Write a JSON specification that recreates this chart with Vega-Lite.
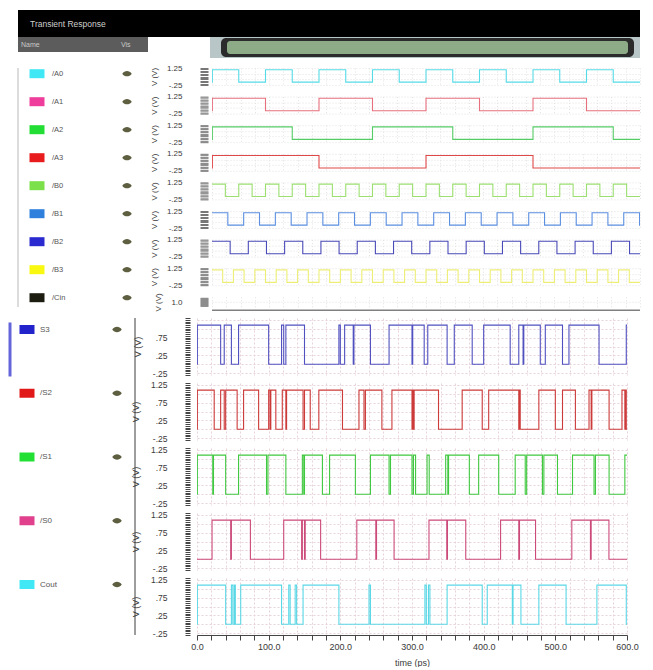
{
"$schema": "https://vega.github.io/schema/vega-lite/v6.json",
"background": "white",
"padding": {"left": 0, "top": 10, "right": 0, "bottom": 0},
"spacing": 0,
"datasets": {
"legTop": [{"name":"/A0"},{"name":"/A1"},{"name":"/A2"},{"name":"/A3"},{"name":"/B0"},{"name":"/B1"},{"name":"/B2"},{"name":"/B3"},{"name":"/Cin"}],
"legBot": [{"name":"S3"},{"name":"/S2"},{"name":"/S1"},{"name":"/S0"},{"name":"Cout"}],
"A0": [{"t":0,"v":0},{"t":0.5,"v":1.1},{"t":37.5,"v":0},{"t":75,"v":1.1},{"t":112.5,"v":0},{"t":150,"v":1.1},{"t":187.5,"v":0},{"t":225,"v":1.1},{"t":262.5,"v":0},{"t":300,"v":1.1},{"t":337.5,"v":0},{"t":375,"v":1.1},{"t":412.5,"v":0},{"t":450,"v":1.1},{"t":487.5,"v":0},{"t":525,"v":1.1},{"t":562.5,"v":0},{"t":600,"v":0}],
"A1": [{"t":0,"v":0},{"t":0.5,"v":1.1},{"t":75,"v":0},{"t":150,"v":1.1},{"t":225,"v":0},{"t":300,"v":1.1},{"t":375,"v":0},{"t":450,"v":1.1},{"t":525,"v":0},{"t":600,"v":0}],
"A2": [{"t":0,"v":0},{"t":0.5,"v":1.1},{"t":112.5,"v":0},{"t":225,"v":1.1},{"t":337.5,"v":0},{"t":450,"v":1.1},{"t":562.5,"v":0},{"t":600,"v":0}],
"A3": [{"t":0,"v":0},{"t":0.5,"v":1.1},{"t":150,"v":0},{"t":300,"v":1.1},{"t":450,"v":0},{"t":600,"v":0}],
"B0": [{"t":0,"v":1.1},{"t":18.75,"v":0},{"t":37.5,"v":1.1},{"t":56.25,"v":0},{"t":75,"v":1.1},{"t":93.75,"v":0},{"t":112.5,"v":1.1},{"t":131.25,"v":0},{"t":150,"v":1.1},{"t":168.75,"v":0},{"t":187.5,"v":1.1},{"t":206.25,"v":0},{"t":225,"v":1.1},{"t":243.75,"v":0},{"t":262.5,"v":1.1},{"t":281.25,"v":0},{"t":300,"v":1.1},{"t":318.75,"v":0},{"t":337.5,"v":1.1},{"t":356.25,"v":0},{"t":375,"v":1.1},{"t":393.75,"v":0},{"t":412.5,"v":1.1},{"t":431.25,"v":0},{"t":450,"v":1.1},{"t":468.75,"v":0},{"t":487.5,"v":1.1},{"t":506.25,"v":0},{"t":525,"v":1.1},{"t":543.75,"v":0},{"t":562.5,"v":1.1},{"t":581.25,"v":0},{"t":600,"v":0}],
"B1": [{"t":0,"v":1.1},{"t":22.2,"v":0},{"t":44.4,"v":1.1},{"t":66.6,"v":0},{"t":88.8,"v":1.1},{"t":111,"v":0},{"t":133.2,"v":1.1},{"t":155.4,"v":0},{"t":177.6,"v":1.1},{"t":199.8,"v":0},{"t":222,"v":1.1},{"t":244.2,"v":0},{"t":266.4,"v":1.1},{"t":288.6,"v":0},{"t":310.8,"v":1.1},{"t":333,"v":0},{"t":355.2,"v":1.1},{"t":377.4,"v":0},{"t":399.6,"v":1.1},{"t":421.8,"v":0},{"t":444,"v":1.1},{"t":466.2,"v":0},{"t":488.4,"v":1.1},{"t":510.6,"v":0},{"t":532.8,"v":1.1},{"t":555,"v":0},{"t":577.2,"v":1.1},{"t":599.4,"v":0},{"t":600,"v":0}],
"B2": [{"t":0,"v":1.1},{"t":25.45,"v":0},{"t":50.9,"v":1.1},{"t":76.35,"v":0},{"t":101.8,"v":1.1},{"t":127.25,"v":0},{"t":152.7,"v":1.1},{"t":178.15,"v":0},{"t":203.6,"v":1.1},{"t":229.05,"v":0},{"t":254.5,"v":1.1},{"t":279.95,"v":0},{"t":305.4,"v":1.1},{"t":330.85,"v":0},{"t":356.3,"v":1.1},{"t":381.75,"v":0},{"t":407.2,"v":1.1},{"t":432.65,"v":0},{"t":458.1,"v":1.1},{"t":483.55,"v":0},{"t":509,"v":1.1},{"t":534.45,"v":0},{"t":559.9,"v":1.1},{"t":585.35,"v":0},{"t":600,"v":0}],
"B3": [{"t":0,"v":1.1},{"t":15,"v":0},{"t":30,"v":1.1},{"t":45,"v":0},{"t":60,"v":1.1},{"t":75,"v":0},{"t":90,"v":1.1},{"t":105,"v":0},{"t":120,"v":1.1},{"t":135,"v":0},{"t":150,"v":1.1},{"t":165,"v":0},{"t":180,"v":1.1},{"t":195,"v":0},{"t":210,"v":1.1},{"t":225,"v":0},{"t":240,"v":1.1},{"t":255,"v":0},{"t":270,"v":1.1},{"t":285,"v":0},{"t":300,"v":1.1},{"t":315,"v":0},{"t":330,"v":1.1},{"t":345,"v":0},{"t":360,"v":1.1},{"t":375,"v":0},{"t":390,"v":1.1},{"t":405,"v":0},{"t":420,"v":1.1},{"t":435,"v":0},{"t":450,"v":1.1},{"t":465,"v":0},{"t":480,"v":1.1},{"t":495,"v":0},{"t":510,"v":1.1},{"t":525,"v":0},{"t":540,"v":1.1},{"t":555,"v":0},{"t":570,"v":1.1},{"t":585,"v":0},{"t":600,"v":0}],
"Cin": [{"t":0,"v":0},{"t":600,"v":0}],
"S3": [{"t":0,"v":0},{"t":0.5,"v":1.1},{"t":33,"v":0},{"t":38,"v":1.1},{"t":48,"v":0},{"t":58,"v":1.1},{"t":100,"v":0},{"t":118,"v":1.1},{"t":121,"v":0},{"t":124,"v":1.1},{"t":150,"v":0},{"t":198,"v":1.1},{"t":200,"v":0},{"t":206,"v":1.1},{"t":218,"v":0},{"t":219,"v":1.1},{"t":242,"v":0},{"t":268,"v":1.1},{"t":300,"v":0},{"t":301,"v":1.1},{"t":317,"v":0},{"t":322,"v":1.1},{"t":349,"v":0},{"t":359,"v":1.1},{"t":384,"v":0},{"t":400,"v":1.1},{"t":437,"v":0},{"t":449,"v":1.1},{"t":455,"v":0},{"t":456,"v":1.1},{"t":479,"v":0},{"t":486,"v":1.1},{"t":510,"v":0},{"t":519,"v":1.1},{"t":561,"v":0},{"t":599,"v":1.1},{"t":600,"v":1.1}],
"S2": [{"t":0,"v":0},{"t":0.5,"v":1.1},{"t":24,"v":0},{"t":33,"v":1.1},{"t":38,"v":0},{"t":40,"v":1.1},{"t":56,"v":0},{"t":65,"v":1.1},{"t":86,"v":0},{"t":100,"v":1.1},{"t":102,"v":0},{"t":103,"v":1.1},{"t":110,"v":0},{"t":119,"v":1.1},{"t":124,"v":0},{"t":125,"v":1.1},{"t":148,"v":0},{"t":150,"v":1.1},{"t":158,"v":0},{"t":170,"v":1.1},{"t":203,"v":0},{"t":226,"v":1.1},{"t":233,"v":0},{"t":235,"v":1.1},{"t":258,"v":0},{"t":272,"v":1.1},{"t":300,"v":0},{"t":301,"v":1.1},{"t":302,"v":0},{"t":303,"v":1.1},{"t":337,"v":0},{"t":370,"v":1.1},{"t":398,"v":0},{"t":407,"v":1.1},{"t":449,"v":0},{"t":450,"v":1.1},{"t":451,"v":0},{"t":477,"v":1.1},{"t":500,"v":0},{"t":510,"v":1.1},{"t":528,"v":0},{"t":547,"v":1.1},{"t":550,"v":0},{"t":551,"v":1.1},{"t":575,"v":0},{"t":593,"v":1.1},{"t":597,"v":0},{"t":598,"v":1.1},{"t":599,"v":0},{"t":600,"v":0}],
"S1": [{"t":0,"v":0},{"t":0.5,"v":1.1},{"t":22,"v":0},{"t":23,"v":1.1},{"t":40,"v":0},{"t":58,"v":1.1},{"t":97,"v":0},{"t":99,"v":1.1},{"t":124,"v":0},{"t":147,"v":1.1},{"t":149,"v":0},{"t":150,"v":1.1},{"t":175,"v":0},{"t":185,"v":1.1},{"t":221,"v":0},{"t":242,"v":1.1},{"t":268,"v":0},{"t":270,"v":1.1},{"t":300,"v":0},{"t":302,"v":1.1},{"t":305,"v":0},{"t":321,"v":1.1},{"t":324,"v":0},{"t":347,"v":1.1},{"t":350,"v":0},{"t":351,"v":1.1},{"t":380,"v":0},{"t":393,"v":1.1},{"t":421,"v":0},{"t":444,"v":1.1},{"t":458,"v":0},{"t":460,"v":1.1},{"t":482,"v":0},{"t":484,"v":1.1},{"t":503,"v":0},{"t":524,"v":1.1},{"t":554,"v":0},{"t":556,"v":1.1},{"t":575,"v":0},{"t":597,"v":1.1},{"t":600,"v":1.1}],
"S0": [{"t":0,"v":0},{"t":21,"v":1.1},{"t":47,"v":0},{"t":48,"v":1.1},{"t":74.5,"v":0},{"t":121,"v":1.1},{"t":146,"v":0},{"t":147,"v":1.1},{"t":150,"v":0},{"t":151,"v":1.1},{"t":172.5,"v":0},{"t":223,"v":1.1},{"t":249.5,"v":0},{"t":250.5,"v":1.1},{"t":275,"v":0},{"t":323.7,"v":1.1},{"t":348.5,"v":0},{"t":349.5,"v":1.1},{"t":375,"v":0},{"t":423.6,"v":1.1},{"t":449,"v":0},{"t":450,"v":1.1},{"t":472.4,"v":0},{"t":523,"v":1.1},{"t":549,"v":0},{"t":550,"v":1.1},{"t":574.8,"v":0},{"t":600,"v":0}],
"Cout": [{"t":0,"v":0},{"t":0.5,"v":1.1},{"t":40,"v":0},{"t":48,"v":1.1},{"t":50,"v":0},{"t":52,"v":1.1},{"t":53.5,"v":0},{"t":61,"v":1.1},{"t":118,"v":0},{"t":128,"v":1.1},{"t":130,"v":0},{"t":137,"v":1.1},{"t":139,"v":0},{"t":148,"v":1.1},{"t":198,"v":0},{"t":240,"v":1.1},{"t":242,"v":0},{"t":318,"v":1.1},{"t":320,"v":0},{"t":323,"v":1.1},{"t":325,"v":0},{"t":349,"v":1.1},{"t":398,"v":0},{"t":405,"v":1.1},{"t":440,"v":0},{"t":441,"v":1.1},{"t":452,"v":0},{"t":477,"v":1.1},{"t":515,"v":0},{"t":558,"v":1.1},{"t":599,"v":0},{"t":600,"v":0}]
},
"vconcat": [
{"width": 640, "height": 53.1, "data": {"values": [{}]},
 "layer": [
  {"mark": {"type": "rect", "color": "#000000"}, "encoding": {"x": {"datum": 18, "type": "quantitative", "scale": {"domain": [0, 640], "nice": false, "zero": false}, "axis": null}, "x2": {"datum": 640}, "y": {"datum": 10, "type": "quantitative", "scale": {"domain": [10, 63.1], "reverse": true, "nice": false, "zero": false}, "axis": null}, "y2": {"datum": 37}}},
  {"mark": {"type": "rect", "color": "#5c5c5c"}, "encoding": {"x": {"datum": 18, "type": "quantitative"}, "x2": {"datum": 148}, "y": {"datum": 37, "type": "quantitative"}, "y2": {"datum": 52}}},
  {"mark": {"type": "rect", "color": "#b9c6c8"}, "encoding": {"x": {"datum": 210, "type": "quantitative"}, "x2": {"datum": 640}, "y": {"datum": 37, "type": "quantitative"}, "y2": {"datum": 58}}},
  {"mark": {"type": "rect", "color": "#2b2b2b", "cornerRadius": 5}, "encoding": {"x": {"datum": 221, "type": "quantitative"}, "x2": {"datum": 634}, "y": {"datum": 38, "type": "quantitative"}, "y2": {"datum": 57}}},
  {"mark": {"type": "rect", "color": "#8dab86", "cornerRadius": 3}, "encoding": {"x": {"datum": 227, "type": "quantitative"}, "x2": {"datum": 628}, "y": {"datum": 41, "type": "quantitative"}, "y2": {"datum": 54}}},
  {"mark": {"type": "text", "align": "left", "baseline": "middle", "color": "#cfcfcf", "fontSize": 8.5}, "encoding": {"x": {"datum": 30, "type": "quantitative"}, "y": {"datum": 24, "type": "quantitative"}, "text": {"value": "Transient Response"}}},
  {"mark": {"type": "text", "align": "left", "baseline": "middle", "color": "#c8c8c8", "fontSize": 7}, "encoding": {"x": {"datum": 21, "type": "quantitative"}, "y": {"datum": 44.5, "type": "quantitative"}, "text": {"value": "Name"}}},
  {"mark": {"type": "text", "align": "left", "baseline": "middle", "color": "#c8c8c8", "fontSize": 7}, "encoding": {"x": {"datum": 121, "type": "quantitative"}, "y": {"datum": 44.5, "type": "quantitative"}, "text": {"value": "Vis"}}}
 ]},
{"hconcat": [
  {"width": 212, "height": 239, "data": {"name": "legTop"},
   "layer": [
    {"mark": {"type": "rule", "color": "#dcdcdc"}, "encoding": {"x": {"datum": 18, "type": "quantitative", "scale": {"domain": [0, 212], "nice": false, "zero": false}, "axis": null}}},
    {"mark": {"type": "point", "filled": true, "opacity": 1, "shape": "M-1,-0.6L1,-0.6L1,0.6L-1,0.6Z", "size": 225}, "encoding": {"x": {"datum": 37, "type": "quantitative"}, "y": {"field": "name", "type": "nominal", "scale": {"type": "point", "padding": 0, "domain": ["/A0","/A1","/A2","/A3","/B0","/B1","/B2","/B3","/Cin"], "range": [5.7, 229.7]}, "axis": null}, "color": {"field": "name", "type": "nominal", "scale": {"domain": ["/A0","/A1","/A2","/A3","/B0","/B1","/B2","/B3","/Cin","S3","/S2","/S1","/S0","Cout"], "range": ["#40e8f5","#ee3d9b","#22dd33","#e81c1c","#7be04a","#2f80dc","#2a2ad0","#f8f810","#1c1c10","#2323cc","#e01818","#22e033","#e0408c","#40e8f5"]}, "legend": null}}},
    {"mark": {"type": "text", "align": "left", "baseline": "middle", "fontSize": 7.5, "color": "#555555"}, "encoding": {"x": {"datum": 52, "type": "quantitative"}, "y": {"field": "name", "type": "nominal"}, "text": {"field": "name"}}},
    {"mark": {"type": "point", "filled": true, "opacity": 1, "color": "#5e5e40", "shape": "M-1,0C-0.5,-0.75 0.5,-0.75 1,0C0.5,0.75 -0.5,0.75 -1,0Z", "size": 90}, "encoding": {"x": {"datum": 127, "type": "quantitative"}, "y": {"field": "name", "type": "nominal"}}}
   ]},
  {"vconcat": [
    {"data": {"name": "A0"}, "width": 428, "height": 17, "mark": {"type": "line", "interpolate": "step-after", "color": "#55dbe6", "strokeWidth": 1.1, "clip": true}, "encoding": {"x": {"field": "t", "type": "quantitative", "scale": {"domain": [0, 600], "nice": false}, "axis": {"title": null, "labels": false, "ticks": false, "domain": false, "tickCount": 30, "grid": true, "gridColor": "#e2e2e2", "gridDash": [1, 2]}}, "y": {"field": "v", "type": "quantitative", "scale": {"domain": [-0.25, 1.25], "nice": false, "zero": false}, "axis": {"title": "V (V)", "values": [-0.25,-0.125,0,0.125,0.25,0.375,0.5,0.625,0.75,0.875,1,1.125,1.25], "labelExpr": "datum.value == 1.25 ? '1.25' : datum.value == -0.25 ? '-.25' : ''", "offset": 4, "tickSize": 8, "tickColor": "#777777", "labelPadding": 18, "titlePadding": 8, "labelFontSize": 8, "titleFontSize": 8, "domain": false, "grid": true, "gridColor": "#e2e2e2", "gridDash": [1, 2], "gridOpacity": {"condition": {"test": "indexof([-0.25,0.25,0.75,1.25], datum.value) >= 0", "value": 1}, "value": 0}}}}},
    {"data": {"name": "A1"}, "width": 428, "height": 17, "mark": {"type": "line", "interpolate": "step-after", "color": "#e8707e", "strokeWidth": 1.1, "clip": true}, "encoding": {"x": {"field": "t", "type": "quantitative", "scale": {"domain": [0, 600], "nice": false}, "axis": {"title": null, "labels": false, "ticks": false, "domain": false, "tickCount": 30, "grid": true, "gridColor": "#e2e2e2", "gridDash": [1, 2]}}, "y": {"field": "v", "type": "quantitative", "scale": {"domain": [-0.25, 1.25], "nice": false, "zero": false}, "axis": {"title": "V (V)", "values": [-0.25,-0.125,0,0.125,0.25,0.375,0.5,0.625,0.75,0.875,1,1.125,1.25], "labelExpr": "datum.value == 1.25 ? '1.25' : datum.value == -0.25 ? '-.25' : ''", "offset": 4, "tickSize": 8, "tickColor": "#777777", "labelPadding": 18, "titlePadding": 8, "labelFontSize": 8, "titleFontSize": 8, "domain": false, "grid": true, "gridColor": "#e2e2e2", "gridDash": [1, 2], "gridOpacity": {"condition": {"test": "indexof([-0.25,0.25,0.75,1.25], datum.value) >= 0", "value": 1}, "value": 0}}}}},
    {"data": {"name": "A2"}, "width": 428, "height": 17, "mark": {"type": "line", "interpolate": "step-after", "color": "#55cc66", "strokeWidth": 1.1, "clip": true}, "encoding": {"x": {"field": "t", "type": "quantitative", "scale": {"domain": [0, 600], "nice": false}, "axis": {"title": null, "labels": false, "ticks": false, "domain": false, "tickCount": 30, "grid": true, "gridColor": "#e2e2e2", "gridDash": [1, 2]}}, "y": {"field": "v", "type": "quantitative", "scale": {"domain": [-0.25, 1.25], "nice": false, "zero": false}, "axis": {"title": "V (V)", "values": [-0.25,-0.125,0,0.125,0.25,0.375,0.5,0.625,0.75,0.875,1,1.125,1.25], "labelExpr": "datum.value == 1.25 ? '1.25' : datum.value == -0.25 ? '-.25' : ''", "offset": 4, "tickSize": 8, "tickColor": "#777777", "labelPadding": 18, "titlePadding": 8, "labelFontSize": 8, "titleFontSize": 8, "domain": false, "grid": true, "gridColor": "#e2e2e2", "gridDash": [1, 2], "gridOpacity": {"condition": {"test": "indexof([-0.25,0.25,0.75,1.25], datum.value) >= 0", "value": 1}, "value": 0}}}}},
    {"data": {"name": "A3"}, "width": 428, "height": 17, "mark": {"type": "line", "interpolate": "step-after", "color": "#e04848", "strokeWidth": 1.1, "clip": true}, "encoding": {"x": {"field": "t", "type": "quantitative", "scale": {"domain": [0, 600], "nice": false}, "axis": {"title": null, "labels": false, "ticks": false, "domain": false, "tickCount": 30, "grid": true, "gridColor": "#e2e2e2", "gridDash": [1, 2]}}, "y": {"field": "v", "type": "quantitative", "scale": {"domain": [-0.25, 1.25], "nice": false, "zero": false}, "axis": {"title": "V (V)", "values": [-0.25,-0.125,0,0.125,0.25,0.375,0.5,0.625,0.75,0.875,1,1.125,1.25], "labelExpr": "datum.value == 1.25 ? '1.25' : datum.value == -0.25 ? '-.25' : ''", "offset": 4, "tickSize": 8, "tickColor": "#777777", "labelPadding": 18, "titlePadding": 8, "labelFontSize": 8, "titleFontSize": 8, "domain": false, "grid": true, "gridColor": "#e2e2e2", "gridDash": [1, 2], "gridOpacity": {"condition": {"test": "indexof([-0.25,0.25,0.75,1.25], datum.value) >= 0", "value": 1}, "value": 0}}}}},
    {"data": {"name": "B0"}, "width": 428, "height": 17, "mark": {"type": "line", "interpolate": "step-after", "color": "#9be070", "strokeWidth": 1.1, "clip": true}, "encoding": {"x": {"field": "t", "type": "quantitative", "scale": {"domain": [0, 600], "nice": false}, "axis": {"title": null, "labels": false, "ticks": false, "domain": false, "tickCount": 30, "grid": true, "gridColor": "#e2e2e2", "gridDash": [1, 2]}}, "y": {"field": "v", "type": "quantitative", "scale": {"domain": [-0.25, 1.25], "nice": false, "zero": false}, "axis": {"title": "V (V)", "values": [-0.25,-0.125,0,0.125,0.25,0.375,0.5,0.625,0.75,0.875,1,1.125,1.25], "labelExpr": "datum.value == 1.25 ? '1.25' : datum.value == -0.25 ? '-.25' : ''", "offset": 4, "tickSize": 8, "tickColor": "#777777", "labelPadding": 18, "titlePadding": 8, "labelFontSize": 8, "titleFontSize": 8, "domain": false, "grid": true, "gridColor": "#e2e2e2", "gridDash": [1, 2], "gridOpacity": {"condition": {"test": "indexof([-0.25,0.25,0.75,1.25], datum.value) >= 0", "value": 1}, "value": 0}}}}},
    {"data": {"name": "B1"}, "width": 428, "height": 17, "mark": {"type": "line", "interpolate": "step-after", "color": "#5b8fe0", "strokeWidth": 1.1, "clip": true}, "encoding": {"x": {"field": "t", "type": "quantitative", "scale": {"domain": [0, 600], "nice": false}, "axis": {"title": null, "labels": false, "ticks": false, "domain": false, "tickCount": 30, "grid": true, "gridColor": "#e2e2e2", "gridDash": [1, 2]}}, "y": {"field": "v", "type": "quantitative", "scale": {"domain": [-0.25, 1.25], "nice": false, "zero": false}, "axis": {"title": "V (V)", "values": [-0.25,-0.125,0,0.125,0.25,0.375,0.5,0.625,0.75,0.875,1,1.125,1.25], "labelExpr": "datum.value == 1.25 ? '1.25' : datum.value == -0.25 ? '-.25' : ''", "offset": 4, "tickSize": 8, "tickColor": "#777777", "labelPadding": 18, "titlePadding": 8, "labelFontSize": 8, "titleFontSize": 8, "domain": false, "grid": true, "gridColor": "#e2e2e2", "gridDash": [1, 2], "gridOpacity": {"condition": {"test": "indexof([-0.25,0.25,0.75,1.25], datum.value) >= 0", "value": 1}, "value": 0}}}}},
    {"data": {"name": "B2"}, "width": 428, "height": 17, "mark": {"type": "line", "interpolate": "step-after", "color": "#4a4ab8", "strokeWidth": 1.1, "clip": true}, "encoding": {"x": {"field": "t", "type": "quantitative", "scale": {"domain": [0, 600], "nice": false}, "axis": {"title": null, "labels": false, "ticks": false, "domain": false, "tickCount": 30, "grid": true, "gridColor": "#e2e2e2", "gridDash": [1, 2]}}, "y": {"field": "v", "type": "quantitative", "scale": {"domain": [-0.25, 1.25], "nice": false, "zero": false}, "axis": {"title": "V (V)", "values": [-0.25,-0.125,0,0.125,0.25,0.375,0.5,0.625,0.75,0.875,1,1.125,1.25], "labelExpr": "datum.value == 1.25 ? '1.25' : datum.value == -0.25 ? '-.25' : ''", "offset": 4, "tickSize": 8, "tickColor": "#777777", "labelPadding": 18, "titlePadding": 8, "labelFontSize": 8, "titleFontSize": 8, "domain": false, "grid": true, "gridColor": "#e2e2e2", "gridDash": [1, 2], "gridOpacity": {"condition": {"test": "indexof([-0.25,0.25,0.75,1.25], datum.value) >= 0", "value": 1}, "value": 0}}}}},
    {"data": {"name": "B3"}, "width": 428, "height": 17, "mark": {"type": "line", "interpolate": "step-after", "color": "#eeee77", "strokeWidth": 1.1, "clip": true}, "encoding": {"x": {"field": "t", "type": "quantitative", "scale": {"domain": [0, 600], "nice": false}, "axis": {"title": null, "labels": false, "ticks": false, "domain": false, "tickCount": 30, "grid": true, "gridColor": "#e2e2e2", "gridDash": [1, 2]}}, "y": {"field": "v", "type": "quantitative", "scale": {"domain": [-0.25, 1.25], "nice": false, "zero": false}, "axis": {"title": "V (V)", "values": [-0.25,-0.125,0,0.125,0.25,0.375,0.5,0.625,0.75,0.875,1,1.125,1.25], "labelExpr": "datum.value == 1.25 ? '1.25' : datum.value == -0.25 ? '-.25' : ''", "offset": 4, "tickSize": 8, "tickColor": "#777777", "labelPadding": 18, "titlePadding": 8, "labelFontSize": 8, "titleFontSize": 8, "domain": false, "grid": true, "gridColor": "#e2e2e2", "gridDash": [1, 2], "gridOpacity": {"condition": {"test": "indexof([-0.25,0.25,0.75,1.25], datum.value) >= 0", "value": 1}, "value": 0}}}}},
    {"data": {"name": "Cin"}, "width": 428, "height": 10.2, "mark": {"type": "line", "interpolate": "step-after", "color": "#808080", "strokeWidth": 1.5, "clip": false}, "encoding": {"x": {"field": "t", "type": "quantitative", "scale": {"domain": [0, 600], "nice": false}, "axis": {"title": null, "labels": false, "ticks": false, "domain": false, "tickCount": 30, "grid": true, "gridColor": "#e2e2e2", "gridDash": [1, 2]}}, "y": {"field": "v", "type": "quantitative", "scale": {"domain": [0.4, 1.67], "nice": false, "zero": false}, "axis": {"title": "V (V)", "values": [0.5, 0.625, 0.75, 0.875, 1, 1.125, 1.25, 1.375, 1.5], "labelExpr": "datum.value == 1 ? '1.0' : ''", "offset": 4, "tickSize": 8, "tickColor": "#777777", "labelPadding": 18, "titlePadding": 8, "labelFontSize": 8, "titleFontSize": 8, "domain": false, "grid": true, "gridColor": "#e2e2e2", "gridDash": [1, 2], "gridOpacity": {"condition": {"test": "datum.value == 1", "value": 1}, "value": 0}}}}}
  ], "spacing": 11.6, "bounds": "flush"}
 ], "spacing": 0, "bounds": "flush"},
{"hconcat": [
  {"width": 197, "height": 317, "data": {"name": "legBot"},
   "layer": [
    {"mark": {"type": "rule", "color": "#9a9a9a"}, "encoding": {"x": {"datum": 135, "type": "quantitative", "scale": {"domain": [0, 197], "nice": false, "zero": false}, "axis": null}}},
    {"transform": [{"filter": "datum.name == 'S3'"}], "mark": {"type": "tick", "orient": "vertical", "size": 54, "thickness": 3, "color": "#2323cc", "yOffset": 20}, "encoding": {"x": {"datum": 10, "type": "quantitative"}, "y": {"field": "name", "type": "nominal", "scale": {"type": "point", "padding": 0, "domain": ["S3","/S2","/S1","/S0","Cout"], "range": [11.5, 266.5]}, "axis": null}}},
    {"mark": {"type": "point", "filled": true, "opacity": 1, "shape": "M-1,-0.6L1,-0.6L1,0.6L-1,0.6Z", "size": 225}, "encoding": {"x": {"datum": 27, "type": "quantitative"}, "y": {"field": "name", "type": "nominal"}, "color": {"field": "name", "type": "nominal", "scale": {"domain": ["/A0","/A1","/A2","/A3","/B0","/B1","/B2","/B3","/Cin","S3","/S2","/S1","/S0","Cout"], "range": ["#40e8f5","#ee3d9b","#22dd33","#e81c1c","#7be04a","#2f80dc","#2a2ad0","#f8f810","#1c1c10","#2323cc","#e01818","#22e033","#e0408c","#40e8f5"]}, "legend": null}}},
    {"mark": {"type": "text", "align": "left", "baseline": "middle", "fontSize": 8, "color": "#555555"}, "encoding": {"x": {"datum": 40, "type": "quantitative"}, "y": {"field": "name", "type": "nominal"}, "text": {"field": "name"}}},
    {"mark": {"type": "point", "filled": true, "opacity": 1, "color": "#5e5e40", "shape": "M-1,0C-0.5,-0.75 0.5,-0.75 1,0C0.5,0.75 -0.5,0.75 -1,0Z", "size": 90}, "encoding": {"x": {"datum": 117, "type": "quantitative"}, "y": {"field": "name", "type": "nominal"}}}
   ]},
  {"vconcat": [
    {"data": {"name": "S3"}, "width": 430, "height": 57, "mark": {"type": "line", "interpolate": "step-after", "color": "#5050c0", "strokeWidth": 1.1, "clip": true}, "encoding": {"x": {"field": "t", "type": "quantitative", "scale": {"domain": [0, 600], "nice": false}, "axis": {"title": null, "labels": false, "ticks": false, "domain": false, "tickCount": 30, "grid": true, "gridColor": "#e6d3db", "gridDash": [2, 2]}}, "y": {"field": "v", "type": "quantitative", "scale": {"domain": [-0.3, 1.3], "nice": false, "zero": false}, "axis": {"title": "V (V)", "values": [-0.3,-0.25,-0.2,-0.15,-0.1,-0.05,0,0.05,0.1,0.15,0.2,0.25,0.3,0.35,0.4,0.45,0.5,0.55,0.6,0.65,0.7,0.75,0.8,0.85,0.9,0.95,1,1.05,1.1,1.15,1.2,1.25,1.3], "labelExpr": "datum.value == 0.75 ? '.75' : datum.value == 0.25 ? '.25' : datum.value == -0.25 ? '-.25' : ''", "offset": 7, "tickSize": 5, "tickColor": "#444444", "labelPadding": 18, "titlePadding": 10, "labelFontSize": 8.5, "titleFontSize": 9, "domain": false, "grid": true, "gridColor": "#e6d3db", "gridDash": [2, 2], "gridOpacity": {"condition": {"test": "indexof([-0.25,0,0.25,0.5,0.75,1,1.25], datum.value) >= 0", "value": 1}, "value": 0}}}}},
    {"data": {"name": "S2"}, "width": 430, "height": 57, "mark": {"type": "line", "interpolate": "step-after", "color": "#cc3a3a", "strokeWidth": 1.1, "clip": true}, "encoding": {"x": {"field": "t", "type": "quantitative", "scale": {"domain": [0, 600], "nice": false}, "axis": {"title": null, "labels": false, "ticks": false, "domain": false, "tickCount": 30, "grid": true, "gridColor": "#e6d3db", "gridDash": [2, 2]}}, "y": {"field": "v", "type": "quantitative", "scale": {"domain": [-0.3, 1.3], "nice": false, "zero": false}, "axis": {"title": "V (V)", "values": [-0.3,-0.25,-0.2,-0.15,-0.1,-0.05,0,0.05,0.1,0.15,0.2,0.25,0.3,0.35,0.4,0.45,0.5,0.55,0.6,0.65,0.7,0.75,0.8,0.85,0.9,0.95,1,1.05,1.1,1.15,1.2,1.25,1.3], "labelExpr": "datum.value == 1.25 ? '1.25' : datum.value == 0.75 ? '.75' : datum.value == 0.25 ? '.25' : datum.value == -0.25 ? '-.25' : ''", "offset": 7, "tickSize": 5, "tickColor": "#444444", "labelPadding": 18, "titlePadding": 10, "labelFontSize": 8.5, "titleFontSize": 9, "domain": false, "grid": true, "gridColor": "#e6d3db", "gridDash": [2, 2], "gridOpacity": {"condition": {"test": "indexof([-0.25,0,0.25,0.5,0.75,1,1.25], datum.value) >= 0", "value": 1}, "value": 0}}}}},
    {"data": {"name": "S1"}, "width": 430, "height": 57, "mark": {"type": "line", "interpolate": "step-after", "color": "#40c840", "strokeWidth": 1.1, "clip": true}, "encoding": {"x": {"field": "t", "type": "quantitative", "scale": {"domain": [0, 600], "nice": false}, "axis": {"title": null, "labels": false, "ticks": false, "domain": false, "tickCount": 30, "grid": true, "gridColor": "#e6d3db", "gridDash": [2, 2]}}, "y": {"field": "v", "type": "quantitative", "scale": {"domain": [-0.3, 1.3], "nice": false, "zero": false}, "axis": {"title": "V (V)", "values": [-0.3,-0.25,-0.2,-0.15,-0.1,-0.05,0,0.05,0.1,0.15,0.2,0.25,0.3,0.35,0.4,0.45,0.5,0.55,0.6,0.65,0.7,0.75,0.8,0.85,0.9,0.95,1,1.05,1.1,1.15,1.2,1.25,1.3], "labelExpr": "datum.value == 1.25 ? '1.25' : datum.value == 0.75 ? '.75' : datum.value == 0.25 ? '.25' : datum.value == -0.25 ? '-.25' : ''", "offset": 7, "tickSize": 5, "tickColor": "#444444", "labelPadding": 18, "titlePadding": 10, "labelFontSize": 8.5, "titleFontSize": 9, "domain": false, "grid": true, "gridColor": "#e6d3db", "gridDash": [2, 2], "gridOpacity": {"condition": {"test": "indexof([-0.25,0,0.25,0.5,0.75,1,1.25], datum.value) >= 0", "value": 1}, "value": 0}}}}},
    {"data": {"name": "S0"}, "width": 430, "height": 57, "mark": {"type": "line", "interpolate": "step-after", "color": "#cc4a7a", "strokeWidth": 1.1, "clip": true}, "encoding": {"x": {"field": "t", "type": "quantitative", "scale": {"domain": [0, 600], "nice": false}, "axis": {"title": null, "labels": false, "ticks": false, "domain": false, "tickCount": 30, "grid": true, "gridColor": "#e6d3db", "gridDash": [2, 2]}}, "y": {"field": "v", "type": "quantitative", "scale": {"domain": [-0.3, 1.3], "nice": false, "zero": false}, "axis": {"title": "V (V)", "values": [-0.3,-0.25,-0.2,-0.15,-0.1,-0.05,0,0.05,0.1,0.15,0.2,0.25,0.3,0.35,0.4,0.45,0.5,0.55,0.6,0.65,0.7,0.75,0.8,0.85,0.9,0.95,1,1.05,1.1,1.15,1.2,1.25,1.3], "labelExpr": "datum.value == 1.25 ? '1.25' : datum.value == 0.75 ? '.75' : datum.value == 0.25 ? '.25' : datum.value == -0.25 ? '-.25' : ''", "offset": 7, "tickSize": 5, "tickColor": "#444444", "labelPadding": 18, "titlePadding": 10, "labelFontSize": 8.5, "titleFontSize": 9, "domain": false, "grid": true, "gridColor": "#e6d3db", "gridDash": [2, 2], "gridOpacity": {"condition": {"test": "indexof([-0.25,0,0.25,0.5,0.75,1,1.25], datum.value) >= 0", "value": 1}, "value": 0}}}}},
    {"data": {"name": "Cout"}, "width": 430, "height": 57, "mark": {"type": "line", "interpolate": "step-after", "color": "#5ad8e6", "strokeWidth": 1.1, "clip": true}, "encoding": {"x": {"field": "t", "type": "quantitative", "scale": {"domain": [0, 600], "nice": false}, "axis": {"title": "time (ps)", "tickCount": 30, "labelExpr": "datum.value % 100 == 0 ? format(datum.value, '.1f') : ''", "tickSize": 5, "tickColor": "#444444", "labelPadding": 2, "titlePadding": 7, "labelFontSize": 9, "titleFontSize": 9, "domain": true, "domainColor": "#444444", "grid": true, "gridColor": "#e6d3db", "gridDash": [2, 2]}}, "y": {"field": "v", "type": "quantitative", "scale": {"domain": [-0.3, 1.3], "nice": false, "zero": false}, "axis": {"title": "V (V)", "values": [-0.3,-0.25,-0.2,-0.15,-0.1,-0.05,0,0.05,0.1,0.15,0.2,0.25,0.3,0.35,0.4,0.45,0.5,0.55,0.6,0.65,0.7,0.75,0.8,0.85,0.9,0.95,1,1.05,1.1,1.15,1.2,1.25,1.3], "labelExpr": "datum.value == 1.25 ? '1.25' : datum.value == 0.75 ? '.75' : datum.value == 0.25 ? '.25' : datum.value == -0.25 ? '-.25' : ''", "offset": 7, "tickSize": 5, "tickColor": "#444444", "labelPadding": 18, "titlePadding": 10, "labelFontSize": 8.5, "titleFontSize": 9, "domain": false, "grid": true, "gridColor": "#e6d3db", "gridDash": [2, 2], "gridOpacity": {"condition": {"test": "indexof([-0.25,0,0.25,0.5,0.75,1,1.25], datum.value) >= 0", "value": 1}, "value": 0}}}}}
  ], "spacing": 8, "bounds": "flush"}
 ], "spacing": 0, "bounds": "flush"}
],
"config": {
 "view": {"stroke": null, "fill": "white"},
 "font": "Liberation Sans",
 "axis": {"labelFont": "Liberation Sans", "titleFont": "Liberation Sans", "labelColor": "#3a3a3a", "titleColor": "#3a3a3a", "titleFontWeight": "normal", "labelOverlap": false, "labelFlush": false}
}
}
